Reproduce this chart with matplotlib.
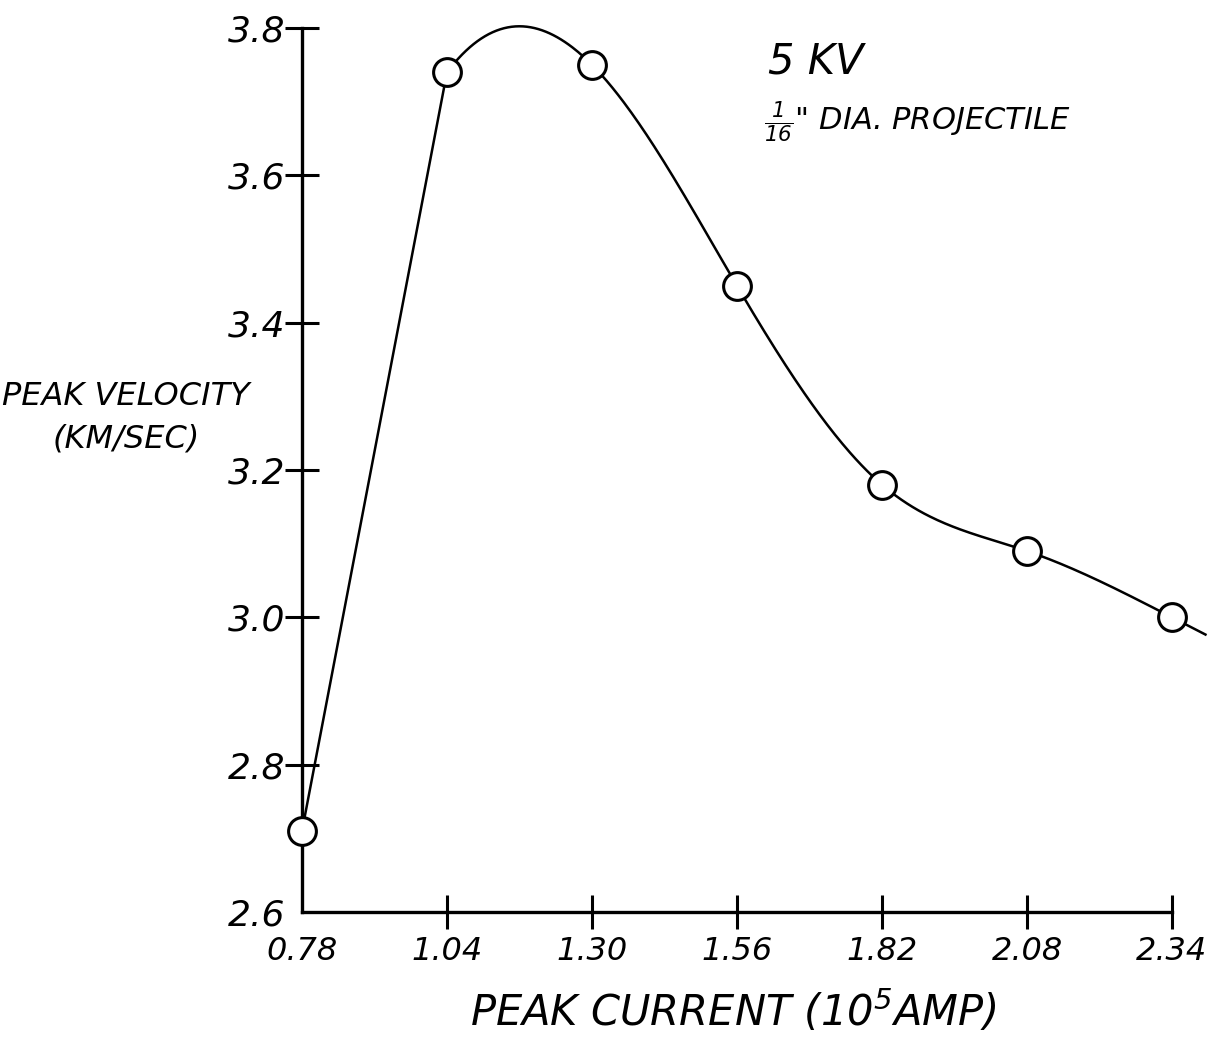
import numpy as np
import matplotlib
matplotlib.use("Agg")
import matplotlib.pyplot as plt

# ---- data ----
peak_current = [0.78, 1.04, 1.30, 1.56, 1.82, 2.08, 2.34]   # 10^5 A
peak_velocity = [2.71, 3.74, 3.75, 3.45, 3.18, 3.09, 3.00]  # km/s
x_ticks = [0.78, 1.04, 1.30, 1.56, 1.82, 2.08, 2.34]
x_tick_labels = ["0.78", "1.04", "1.30", "1.56", "1.82", "2.08", "2.34"]
y_ticks = [2.6, 2.8, 3.0, 3.2, 3.4, 3.6, 3.8]
y_tick_labels = ["2.6", "2.8", "3.0", "3.2", "3.4", "3.6", "3.8"]
curve_end_x = 2.40      # hand-drawn curve runs a little past the last point
slope_after_peak_pt = 1.0  # curve's slope leaving the 1.04 point


def spline(x, y, xs, start_slope):
    """Cubic spline, clamped slope at the start, natural at the end."""
    x = np.asarray(x, float); y = np.asarray(y, float)
    n = len(x)
    h = np.diff(x)
    A = np.zeros((n, n)); b = np.zeros(n)
    A[0, 0] = 2 * h[0]; A[0, 1] = h[0]
    b[0] = 6 * ((y[1] - y[0]) / h[0] - start_slope)
    A[-1, -1] = 1.0
    for i in range(1, n - 1):
        A[i, i - 1] = h[i - 1]
        A[i, i] = 2 * (h[i - 1] + h[i])
        A[i, i + 1] = h[i]
        b[i] = 6 * ((y[i + 1] - y[i]) / h[i] - (y[i] - y[i - 1]) / h[i - 1])
    M = np.linalg.solve(A, b)
    out = np.empty_like(xs)
    for k, xv in enumerate(xs):
        if xv > x[-1]:
            slope = (y[-1] - y[-2]) / h[-1] + h[-1] * (2 * M[-1] + M[-2]) / 6
            out[k] = y[-1] + slope * (xv - x[-1])
            continue
        i = min(max(np.searchsorted(x, xv) - 1, 0), n - 2)
        t0 = x[i + 1] - xv; t1 = xv - x[i]
        out[k] = (M[i] * t0 ** 3 + M[i + 1] * t1 ** 3) / (6 * h[i]) \
            + (y[i] / h[i] - M[i] * h[i] / 6) * t0 \
            + (y[i + 1] / h[i] - M[i + 1] * h[i] / 6) * t1
    return out


plt.rcParams["font.family"] = ["DejaVu Sans"]
plt.rcParams["font.style"] = "italic"

fig = plt.figure(figsize=(12.2, 10.52), dpi=100)
ax = fig.add_axes([302 / 1220, 1 - 912 / 1052, (1172 - 302) / 1220, (912 - 28) / 1052])
ax.set_xlim(0.78, 2.34)
ax.set_ylim(2.6, 3.8)

# rising leg drawn straight, the rest as a smooth curve through the points
ax.plot(peak_current[:2], peak_velocity[:2], color="black", lw=1.8,
        clip_on=False, zorder=2)
xs = np.linspace(peak_current[1], curve_end_x, 400)
ys = spline(peak_current[1:], peak_velocity[1:], xs, slope_after_peak_pt)
ax.plot(xs, ys, color="black", lw=1.8, clip_on=False, zorder=2)
ax.plot(peak_current, peak_velocity, "o", ms=20, mfc="white", mec="black",
        mew=2.2, clip_on=False, zorder=3)

for s in ["top", "right"]:
    ax.spines[s].set_visible(False)
for s in ["left", "bottom"]:
    ax.spines[s].set_linewidth(2.4)

ax.set_xticks(x_ticks)
ax.set_xticklabels(x_tick_labels)
ax.set_yticks(y_ticks)
ax.set_yticklabels(y_tick_labels)
ax.tick_params(axis="both", direction="inout", length=24, width=2.2)
ax.tick_params(axis="y", pad=0, labelsize=26)
ax.tick_params(axis="x", pad=5, labelsize=23)
ax.xaxis.get_major_ticks()[0].tick1line.set_visible(False)
ax.yaxis.get_major_ticks()[0].tick1line.set_visible(False)

fig.text(768 / 1220, 1 - 73 / 1052, "5 KV", fontsize=30, ha="left", va="baseline")
fig.text(764 / 1220, 1 - 130 / 1052, r'$\frac{1}{16}$" DIA. PROJECTILE', fontsize=22,
         ha="left", va="baseline")
fig.text(126 / 1220, 1 - 418 / 1052, "PEAK VELOCITY\n(KM/SEC)", fontsize=23,
         ha="center", va="center", linespacing=1.5)
fig.text(733 / 1220, 1 - 1012 / 1052, r"PEAK CURRENT (10$^{5}$AMP)", fontsize=30,
         ha="center", va="center")

fig.savefig("out.png", dpi=100, facecolor="white")
